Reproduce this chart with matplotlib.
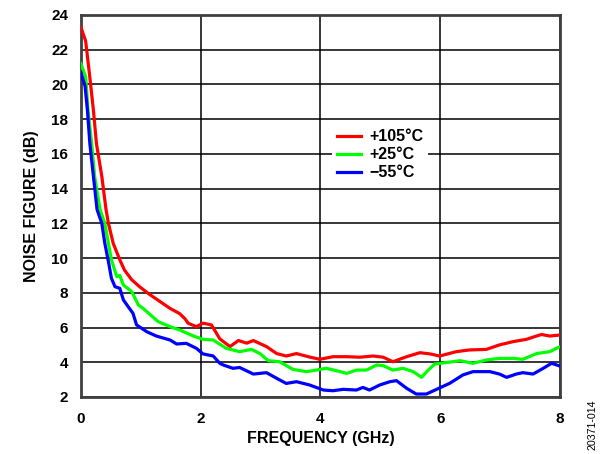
import matplotlib
matplotlib.use("Agg")
import matplotlib.pyplot as plt

plt.rcParams['font.family'] = ['Liberation Sans', 'DejaVu Sans']
plt.rcParams['font.weight'] = 'bold'

# --- data ---
freq_105 = [0, 0.08, 0.15, 0.21, 0.26, 0.35, 0.42, 0.46, 0.54, 0.65, 0.73, 0.85, 0.98, 1.15, 1.32,
            1.49, 1.65, 1.74, 1.79, 1.93, 2.04, 2.18, 2.32, 2.49, 2.63, 2.77, 2.88, 3.1, 3.27, 3.43,
            3.6, 3.82, 3.99, 4.21, 4.44, 4.66, 4.88, 5.05, 5.21, 5.44, 5.66, 5.83, 5.99, 6.27, 6.49,
            6.77, 6.99, 7.22, 7.44, 7.69, 7.83, 8.0]
nf_105 = [23.3, 22.5, 20.4, 18.5, 16.6, 14.7, 12.8, 12.0, 10.85, 9.9, 9.3, 8.75, 8.35, 7.9, 7.5,
          7.1, 6.8, 6.5, 6.25, 6.05, 6.25, 6.15, 5.35, 4.9, 5.25, 5.1, 5.25, 4.9, 4.5, 4.36,
          4.5, 4.3, 4.17, 4.32, 4.32, 4.29, 4.36, 4.29, 4.03, 4.32, 4.55, 4.48, 4.36, 4.61, 4.71,
          4.74, 5.0, 5.19, 5.32, 5.6, 5.51, 5.57]

freq_25 = [0, 0.08, 0.12, 0.18, 0.23, 0.32, 0.4, 0.46, 0.51, 0.6, 0.65, 0.71, 0.85, 0.96, 1.04,
           1.29, 1.49, 1.65, 1.88, 2.04, 2.21, 2.43, 2.65, 2.85, 2.99, 3.13, 3.32, 3.54, 3.77, 3.93,
           4.1, 4.33, 4.44, 4.6, 4.77, 4.94, 5.05, 5.21, 5.38, 5.55, 5.69, 5.8, 5.91, 6.1, 6.33,
           6.55, 6.77, 6.99, 7.22, 7.38, 7.61, 7.83, 8.0]
nf_25 = [21.2, 20.45, 18.5, 16.6, 14.7, 12.8, 12.0, 10.85, 9.9, 8.93, 9.0, 8.45, 8.07, 7.3, 7.1,
         6.34, 6.05, 5.86, 5.51, 5.32, 5.28, 4.8, 4.61, 4.74, 4.5, 4.09, 4.03, 3.59, 3.46, 3.55,
         3.65, 3.46, 3.36, 3.55, 3.55, 3.84, 3.8, 3.55, 3.65, 3.46, 3.13, 3.55, 3.9, 3.98, 4.09,
         3.94, 4.13, 4.22, 4.22, 4.17, 4.5, 4.61, 4.9]

freq_m55 = [0, 0.07, 0.11, 0.15, 0.21, 0.27, 0.35, 0.4, 0.46, 0.51, 0.57, 0.65, 0.71, 0.79, 0.87,
            0.93, 1.1, 1.26, 1.49, 1.6, 1.76, 1.93, 2.04, 2.21, 2.32, 2.38, 2.54, 2.65, 2.88, 3.1,
            3.32, 3.43, 3.6, 3.82, 4.05, 4.21, 4.38, 4.6, 4.71, 4.82, 4.99, 5.16, 5.27, 5.44, 5.6,
            5.77, 5.94, 6.16, 6.38, 6.55, 6.83, 6.99, 7.11, 7.27, 7.38, 7.55, 7.72, 7.86, 8.0]
nf_m55 = [20.7, 19.9, 18.5, 16.6, 14.7, 12.8, 12.0, 10.85, 9.8, 8.84, 8.35, 8.26, 7.59, 7.2, 6.82,
          6.15, 5.76, 5.51, 5.28, 5.05, 5.09, 4.8, 4.48, 4.36, 3.94, 3.84, 3.65, 3.7, 3.32, 3.4,
          2.98, 2.78, 2.88, 2.69, 2.4, 2.36, 2.44, 2.4, 2.55, 2.4, 2.69, 2.88, 2.94, 2.5, 2.17,
          2.17, 2.44, 2.79, 3.27, 3.46, 3.46, 3.32, 3.13, 3.32, 3.4, 3.32, 3.65, 3.94, 3.78]

labels = ['+105°C', '+25°C', '\u221255°C']
colors = ['#ff0000', '#00ff00', '#0000ff']

x_ticks = [0, 2, 4, 6, 8]
y_ticks = [2, 4, 6, 8, 10, 12, 14, 16, 18, 20, 22, 24]

# --- plot ---
fig = plt.figure(figsize=(6.08, 4.54), dpi=100)
ax = fig.add_axes([0.133, 0.1256, 0.788, 0.8414])

series = [(freq_105, nf_105), (freq_25, nf_25), (freq_m55, nf_m55)]
for (fx, fy), lab, col in zip(series, labels, colors):
    ax.plot(fx, fy, color=col, lw=2.3, label=lab, zorder=3)

ax.set_xlim(0, 8)
ax.set_ylim(2, 24)
ax.set_xticks(x_ticks)
ax.set_yticks(y_ticks)
ax.grid(True, color='black', lw=1.1)
ax.tick_params(axis='x', length=0, labelsize=11, pad=11)
ax.tick_params(axis='y', length=0, labelsize=11, pad=9)
for lbl in ax.get_xticklabels() + ax.get_yticklabels():
    lbl.set_fontweight('bold')
for sp in ax.spines.values():
    sp.set_color('#404040')
    sp.set_linewidth(2)

ax.set_xlabel('FREQUENCY (GHz)', fontsize=11.5, fontweight='bold')
ax.set_ylabel('NOISE FIGURE (dB)', fontsize=11.5, fontweight='bold')
ax.xaxis.set_label_coords(0.5, -0.089)
ax.yaxis.set_label_coords(-0.088, 0.5)

leg = ax.legend(loc='center', bbox_to_anchor=(0.625, 0.634), frameon=True, fancybox=False,
                edgecolor='none', facecolor='white', framealpha=1, handlelength=1.5,
                handletextpad=0.5, labelspacing=0.2, borderpad=0.3,
                prop={'weight': 'bold', 'size': 11.5})

fig.text(0.975, 0.009, '20371-014', rotation=90, fontsize=7.7, fontweight='normal',
         ha='center', va='bottom')

fig.savefig('out.png', dpi=100)
